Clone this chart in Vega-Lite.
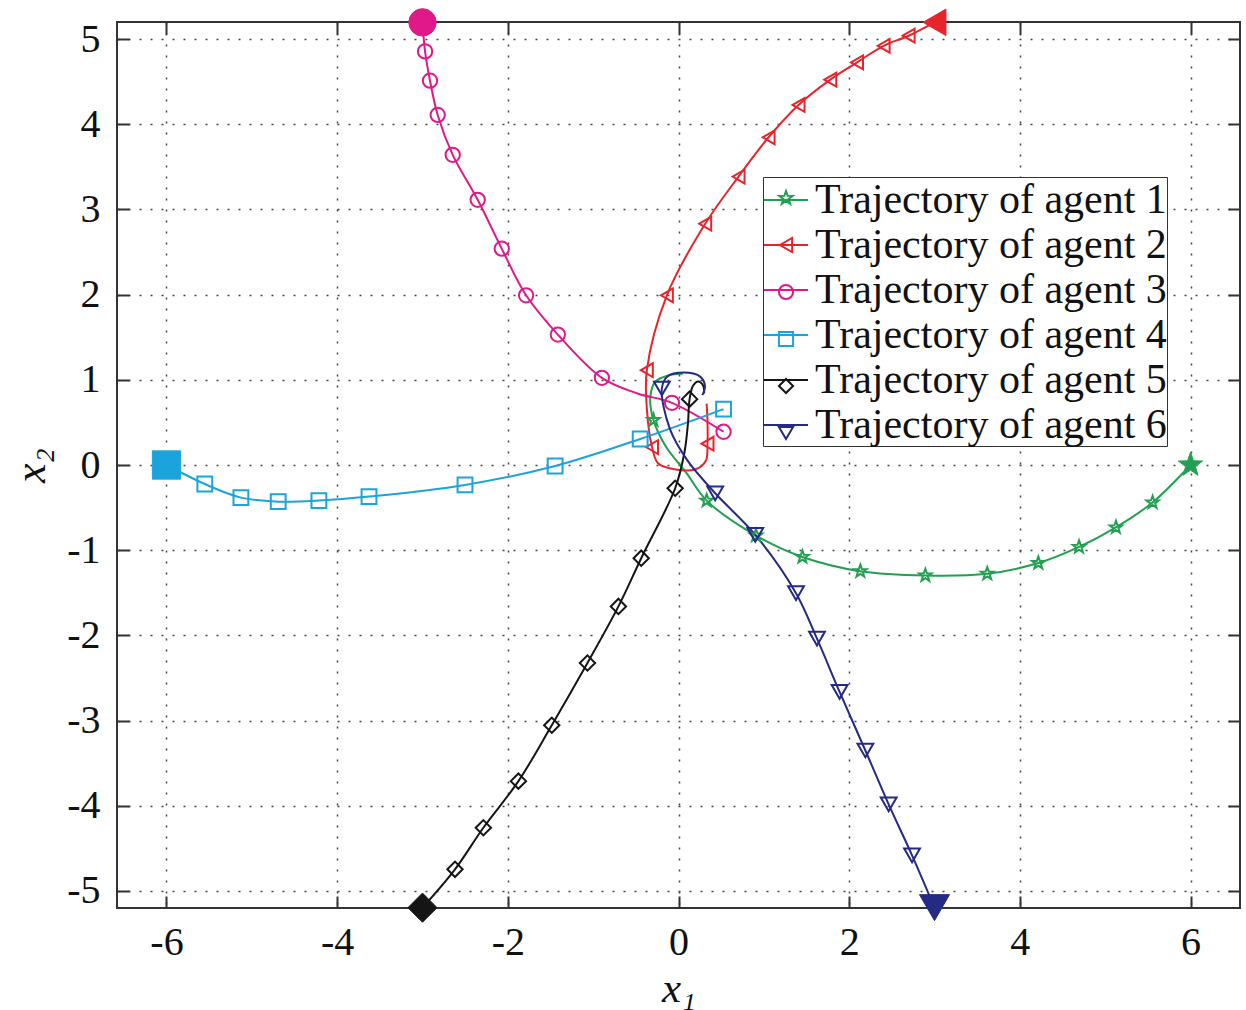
{
  "$schema": "https://vega.github.io/schema/vega-lite/v6.json",
  "width": 1123,
  "height": 886,
  "autosize": "none",
  "padding": {"left": 117, "top": 22, "right": 6, "bottom": 102},
  "background": "white",
  "config": {
    "view": {"stroke": "#333333", "strokeWidth": 2},
    "font": "Liberation Serif"
  },
  "data": {
    "values": [
      {"agent": "Trajectory of agent 1", "i": 0, "kind": "s", "x": 6, "y": 0},
      {"agent": "Trajectory of agent 1", "i": 1, "kind": "m", "x": 5.556, "y": -0.439},
      {"agent": "Trajectory of agent 1", "i": 2, "kind": "m", "x": 5.126, "y": -0.732},
      {"agent": "Trajectory of agent 1", "i": 3, "kind": "m", "x": 4.694, "y": -0.962},
      {"agent": "Trajectory of agent 1", "i": 4, "kind": "m", "x": 4.217, "y": -1.151},
      {"agent": "Trajectory of agent 1", "i": 5, "kind": "m", "x": 3.618, "y": -1.276},
      {"agent": "Trajectory of agent 1", "i": 6, "kind": "m", "x": 2.893, "y": -1.297},
      {"agent": "Trajectory of agent 1", "i": 7, "kind": "m", "x": 2.131, "y": -1.247},
      {"agent": "Trajectory of agent 1", "i": 8, "kind": "m", "x": 1.452, "y": -1.08},
      {"agent": "Trajectory of agent 1", "i": 9, "kind": "m", "x": 0.908, "y": -0.828},
      {"agent": "Trajectory of agent 1", "i": 10, "kind": "m", "x": 0.33, "y": -0.418},
      {"agent": "Trajectory of agent 1", "i": 11, "kind": "p", "x": 0.09, "y": -0.09},
      {"agent": "Trajectory of agent 1", "i": 12, "kind": "p", "x": -0.15, "y": 0.22},
      {"agent": "Trajectory of agent 1", "i": 13, "kind": "m", "x": -0.293, "y": 0.527},
      {"agent": "Trajectory of agent 1", "i": 14, "kind": "p", "x": -0.33, "y": 0.8},
      {"agent": "Trajectory of agent 1", "i": 15, "kind": "p", "x": -0.27, "y": 0.98},
      {"agent": "Trajectory of agent 1", "i": 16, "kind": "p", "x": -0.12, "y": 1.05},
      {"agent": "Trajectory of agent 1", "i": 17, "kind": "p", "x": 0.05, "y": 1.07},

      {"agent": "Trajectory of agent 2", "i": 0, "kind": "s", "x": 3, "y": 5.196},
      {"agent": "Trajectory of agent 2", "i": 1, "kind": "m", "x": 2.697, "y": 5.039},
      {"agent": "Trajectory of agent 2", "i": 2, "kind": "m", "x": 2.404, "y": 4.921},
      {"agent": "Trajectory of agent 2", "i": 3, "kind": "m", "x": 2.092, "y": 4.726},
      {"agent": "Trajectory of agent 2", "i": 4, "kind": "m", "x": 1.779, "y": 4.523},
      {"agent": "Trajectory of agent 2", "i": 5, "kind": "m", "x": 1.407, "y": 4.226},
      {"agent": "Trajectory of agent 2", "i": 6, "kind": "m", "x": 1.056, "y": 3.847},
      {"agent": "Trajectory of agent 2", "i": 7, "kind": "m", "x": 0.704, "y": 3.386},
      {"agent": "Trajectory of agent 2", "i": 8, "kind": "m", "x": 0.313, "y": 2.832},
      {"agent": "Trajectory of agent 2", "i": 9, "kind": "m", "x": -0.136, "y": 1.992},
      {"agent": "Trajectory of agent 2", "i": 10, "kind": "m", "x": -0.371, "y": 1.113},
      {"agent": "Trajectory of agent 2", "i": 11, "kind": "p", "x": -0.37, "y": 0.65},
      {"agent": "Trajectory of agent 2", "i": 12, "kind": "m", "x": -0.31, "y": 0.21},
      {"agent": "Trajectory of agent 2", "i": 13, "kind": "p", "x": -0.24, "y": 0.02},
      {"agent": "Trajectory of agent 2", "i": 14, "kind": "p", "x": -0.05, "y": -0.05},
      {"agent": "Trajectory of agent 2", "i": 15, "kind": "p", "x": 0.2, "y": -0.05},
      {"agent": "Trajectory of agent 2", "i": 16, "kind": "p", "x": 0.32, "y": 0.05},
      {"agent": "Trajectory of agent 2", "i": 17, "kind": "m", "x": 0.34, "y": 0.25},
      {"agent": "Trajectory of agent 2", "i": 18, "kind": "p", "x": 0.34, "y": 0.5},
      {"agent": "Trajectory of agent 2", "i": 19, "kind": "p", "x": 0.33, "y": 0.72},

      {"agent": "Trajectory of agent 3", "i": 0, "kind": "s", "x": -3, "y": 5.196},
      {"agent": "Trajectory of agent 3", "i": 1, "kind": "m", "x": -2.97, "y": 4.855},
      {"agent": "Trajectory of agent 3", "i": 2, "kind": "m", "x": -2.912, "y": 4.511},
      {"agent": "Trajectory of agent 3", "i": 3, "kind": "m", "x": -2.822, "y": 4.109},
      {"agent": "Trajectory of agent 3", "i": 4, "kind": "m", "x": -2.646, "y": 3.641},
      {"agent": "Trajectory of agent 3", "i": 5, "kind": "m", "x": -2.353, "y": 3.113},
      {"agent": "Trajectory of agent 3", "i": 6, "kind": "m", "x": -2.071, "y": 2.539},
      {"agent": "Trajectory of agent 3", "i": 7, "kind": "m", "x": -1.786, "y": 1.992},
      {"agent": "Trajectory of agent 3", "i": 8, "kind": "m", "x": -1.414, "y": 1.531},
      {"agent": "Trajectory of agent 3", "i": 9, "kind": "m", "x": -0.898, "y": 1.023},
      {"agent": "Trajectory of agent 3", "i": 10, "kind": "p", "x": -0.48, "y": 0.84},
      {"agent": "Trajectory of agent 3", "i": 11, "kind": "m", "x": -0.077, "y": 0.73},
      {"agent": "Trajectory of agent 3", "i": 12, "kind": "m", "x": 0.528, "y": 0.39},

      {"agent": "Trajectory of agent 4", "i": 0, "kind": "s", "x": -6, "y": 0},
      {"agent": "Trajectory of agent 4", "i": 1, "kind": "m", "x": -5.551, "y": -0.223},
      {"agent": "Trajectory of agent 4", "i": 2, "kind": "m", "x": -5.128, "y": -0.383},
      {"agent": "Trajectory of agent 4", "i": 3, "kind": "m", "x": -4.691, "y": -0.43},
      {"agent": "Trajectory of agent 4", "i": 4, "kind": "m", "x": -4.214, "y": -0.418},
      {"agent": "Trajectory of agent 4", "i": 5, "kind": "m", "x": -3.627, "y": -0.371},
      {"agent": "Trajectory of agent 4", "i": 6, "kind": "m", "x": -2.502, "y": -0.234},
      {"agent": "Trajectory of agent 4", "i": 7, "kind": "m", "x": -1.446, "y": -0.012},
      {"agent": "Trajectory of agent 4", "i": 8, "kind": "m", "x": -0.449, "y": 0.305},
      {"agent": "Trajectory of agent 4", "i": 9, "kind": "m", "x": 0.528, "y": 0.656},

      {"agent": "Trajectory of agent 5", "i": 0, "kind": "s", "x": -3, "y": -5.196},
      {"agent": "Trajectory of agent 5", "i": 1, "kind": "m", "x": -2.619, "y": -4.746},
      {"agent": "Trajectory of agent 5", "i": 2, "kind": "m", "x": -2.287, "y": -4.258},
      {"agent": "Trajectory of agent 5", "i": 3, "kind": "m", "x": -1.876, "y": -3.711},
      {"agent": "Trajectory of agent 5", "i": 4, "kind": "m", "x": -1.485, "y": -3.055},
      {"agent": "Trajectory of agent 5", "i": 5, "kind": "m", "x": -1.067, "y": -2.324},
      {"agent": "Trajectory of agent 5", "i": 6, "kind": "m", "x": -0.704, "y": -1.66},
      {"agent": "Trajectory of agent 5", "i": 7, "kind": "m", "x": -0.437, "y": -1.094},
      {"agent": "Trajectory of agent 5", "i": 8, "kind": "m", "x": -0.039, "y": -0.273},
      {"agent": "Trajectory of agent 5", "i": 9, "kind": "p", "x": 0.07, "y": 0.15},
      {"agent": "Trajectory of agent 5", "i": 10, "kind": "p", "x": 0.11, "y": 0.48},
      {"agent": "Trajectory of agent 5", "i": 11, "kind": "m", "x": 0.13, "y": 0.773},
      {"agent": "Trajectory of agent 5", "i": 12, "kind": "p", "x": 0.17, "y": 0.93},
      {"agent": "Trajectory of agent 5", "i": 13, "kind": "p", "x": 0.23, "y": 0.98},
      {"agent": "Trajectory of agent 5", "i": 14, "kind": "p", "x": 0.29, "y": 0.93},
      {"agent": "Trajectory of agent 5", "i": 15, "kind": "p", "x": 0.3, "y": 0.84},

      {"agent": "Trajectory of agent 6", "i": 0, "kind": "s", "x": 3, "y": -5.196},
      {"agent": "Trajectory of agent 6", "i": 1, "kind": "m", "x": 2.737, "y": -4.582},
      {"agent": "Trajectory of agent 6", "i": 2, "kind": "m", "x": 2.463, "y": -3.984},
      {"agent": "Trajectory of agent 6", "i": 3, "kind": "m", "x": 2.19, "y": -3.351},
      {"agent": "Trajectory of agent 6", "i": 4, "kind": "m", "x": 1.888, "y": -2.664},
      {"agent": "Trajectory of agent 6", "i": 5, "kind": "m", "x": 1.623, "y": -2.039},
      {"agent": "Trajectory of agent 6", "i": 6, "kind": "m", "x": 1.377, "y": -1.504},
      {"agent": "Trajectory of agent 6", "i": 7, "kind": "m", "x": 0.9, "y": -0.82},
      {"agent": "Trajectory of agent 6", "i": 8, "kind": "m", "x": 0.43, "y": -0.332},
      {"agent": "Trajectory of agent 6", "i": 9, "kind": "p", "x": 0.1, "y": 0.06},
      {"agent": "Trajectory of agent 6", "i": 10, "kind": "p", "x": -0.1, "y": 0.42},
      {"agent": "Trajectory of agent 6", "i": 11, "kind": "m", "x": -0.195, "y": 0.898},
      {"agent": "Trajectory of agent 6", "i": 12, "kind": "p", "x": -0.13, "y": 1.04},
      {"agent": "Trajectory of agent 6", "i": 13, "kind": "p", "x": 0.06, "y": 1.085},
      {"agent": "Trajectory of agent 6", "i": 14, "kind": "p", "x": 0.25, "y": 1.04},
      {"agent": "Trajectory of agent 6", "i": 15, "kind": "p", "x": 0.31, "y": 0.93},
      {"agent": "Trajectory of agent 6", "i": 16, "kind": "p", "x": 0.28, "y": 0.82}
    ]
  },
  "layer": [
    {
      "mark": {"type": "line", "interpolate": "catmull-rom", "strokeWidth": 2},
      "encoding": {
        "x": {
          "field": "x", "type": "quantitative",
          "scale": {"domain": [-6.58, 6.58], "nice": false, "zero": false},
          "axis": {
            "orient": "bottom", "values": [-6, -4, -2, 0, 2, 4, 6],
            "grid": true, "gridDash": [2, 9], "gridColor": "#444444", "gridWidth": 1.5, "gridOpacity": 1,
            "domain": false, "tickSize": -12, "tickWidth": 2, "tickColor": "#333333",
            "labelFont": "Liberation Serif", "labelFontSize": 40, "labelColor": "#111111", "labelPadding": 26,
            "labelExpr": "datum.value < 0 ? '-' + abs(datum.value) : '' + datum.value",
            "title": "x₁", "titleFont": "Liberation Serif", "titleFontSize": 43, "titleFontStyle": "italic",
            "titleFontWeight": "normal", "titleColor": "#111111", "titlePadding": 5
          }
        },
        "y": {
          "field": "y", "type": "quantitative",
          "scale": {"domain": [-5.2, 5.2], "nice": false, "zero": false},
          "axis": {
            "orient": "left", "values": [-5, -4, -3, -2, -1, 0, 1, 2, 3, 4, 5],
            "grid": true, "gridDash": [2, 9], "gridColor": "#444444", "gridWidth": 1.5, "gridOpacity": 1,
            "domain": false, "tickSize": -12, "tickWidth": 2, "tickColor": "#333333",
            "labelFont": "Liberation Serif", "labelFontSize": 40, "labelColor": "#111111", "labelPadding": 29,
            "labelExpr": "datum.value < 0 ? '-' + abs(datum.value) : '' + datum.value",
            "title": "x₂", "titleFont": "Liberation Serif", "titleFontSize": 44, "titleFontStyle": "italic",
            "titleFontWeight": "normal", "titleColor": "#111111", "titlePadding": 13
          }
        },
        "order": {"field": "i", "type": "quantitative"},
        "color": {
          "field": "agent", "type": "nominal",
          "scale": {
            "domain": ["Trajectory of agent 1", "Trajectory of agent 2", "Trajectory of agent 3", "Trajectory of agent 4", "Trajectory of agent 5", "Trajectory of agent 6"],
            "range": ["#22a052", "#e8242b", "#e0188a", "#1ba4dc", "#151515", "#252a84"]
          },
          "legend": {
            "orient": "none", "legendX": 646, "legendY": 155, "title": null,
            "symbolType": "stroke", "symbolSize": 1936, "symbolStrokeWidth": 2,
            "labelFont": "Liberation Serif", "labelFontSize": 42, "labelColor": "#111111", "labelLimit": 600,
            "labelOffset": 6, "rowPadding": 1, "padding": 0,
            "fillColor": "white", "strokeColor": "#333333", "zindex": 1
          }
        }
      }
    },
    {
      "transform": [{"filter": "datum.kind == 'm'"}],
      "mark": {"type": "point", "filled": false, "strokeWidth": 2, "opacity": 1},
      "encoding": {
        "x": {"field": "x", "type": "quantitative", "axis": null},
        "y": {"field": "y", "type": "quantitative", "axis": null},
        "stroke": {
          "field": "agent", "type": "nominal",
          "scale": {"range": ["#22a052", "#e8242b", "#e0188a", "#1ba4dc", "#151515", "#252a84"]},
          "legend": {
            "orient": "none", "legendX": 646, "legendY": 155, "title": null,
            "symbolSize": 200, "symbolStrokeWidth": 2, "symbolFillColor": "transparent", "symbolOffset": 2,
            "labelFont": "Liberation Serif", "labelFontSize": 42, "labelLimit": 600,
            "labelExpr": "''", "rowPadding": 5, "padding": 0, "zindex": 2
          }
        },
        "size": {
          "field": "agent", "type": "nominal",
          "scale": {"range": [175, 250, 210, 150, 260, 320]},
          "legend": null
        },
        "shape": {
          "field": "agent", "type": "nominal",
          "scale": {"range": ["M0,-1L0.235,-0.324L0.951,-0.309L0.38,0.124L0.588,0.809L0,0.4L-0.588,0.809L-0.38,0.124L-0.951,-0.309L-0.235,-0.324Z", "triangle-left", "circle", "square", "diamond", "triangle-down"]},
          "legend": {
            "orient": "none", "legendX": 646, "legendY": 155, "title": null,
            "symbolSize": 200, "symbolStrokeWidth": 2, "symbolFillColor": "transparent", "symbolOffset": 2,
            "labelFont": "Liberation Serif", "labelFontSize": 42, "labelLimit": 600,
            "labelExpr": "''", "rowPadding": 5, "padding": 0, "zindex": 2
          }
        }
      }
    },
    {
      "transform": [{"filter": "datum.kind == 's'"}],
      "mark": {"type": "point", "filled": true, "opacity": 1, "strokeWidth": 1},
      "encoding": {
        "x": {
          "field": "x", "type": "quantitative",
          "axis": {"orient": "top", "values": [-6, -4, -2, 0, 2, 4, 6], "labels": false, "title": null, "grid": false, "domain": false, "tickSize": -12, "tickWidth": 2, "tickColor": "#333333"}
        },
        "y": {
          "field": "y", "type": "quantitative",
          "axis": {"orient": "right", "values": [-5, -4, -3, -2, -1, 0, 1, 2, 3, 4, 5], "labels": false, "title": null, "grid": false, "domain": false, "tickSize": -12, "tickWidth": 2, "tickColor": "#333333"}
        },
        "color": {"field": "agent", "type": "nominal", "legend": null},
        "stroke": {"field": "agent", "type": "nominal", "legend": null},
        "size": {
          "field": "agent", "type": "nominal",
          "scale": {"range": [650, 900, 780, 420, 560, 900]},
          "legend": null
        },
        "shape": {"field": "agent", "type": "nominal", "legend": null}
      }
    }
  ],
  "resolve": {
    "axis": {"x": "independent", "y": "independent"},
    "scale": {"size": "independent"}
  }
}
